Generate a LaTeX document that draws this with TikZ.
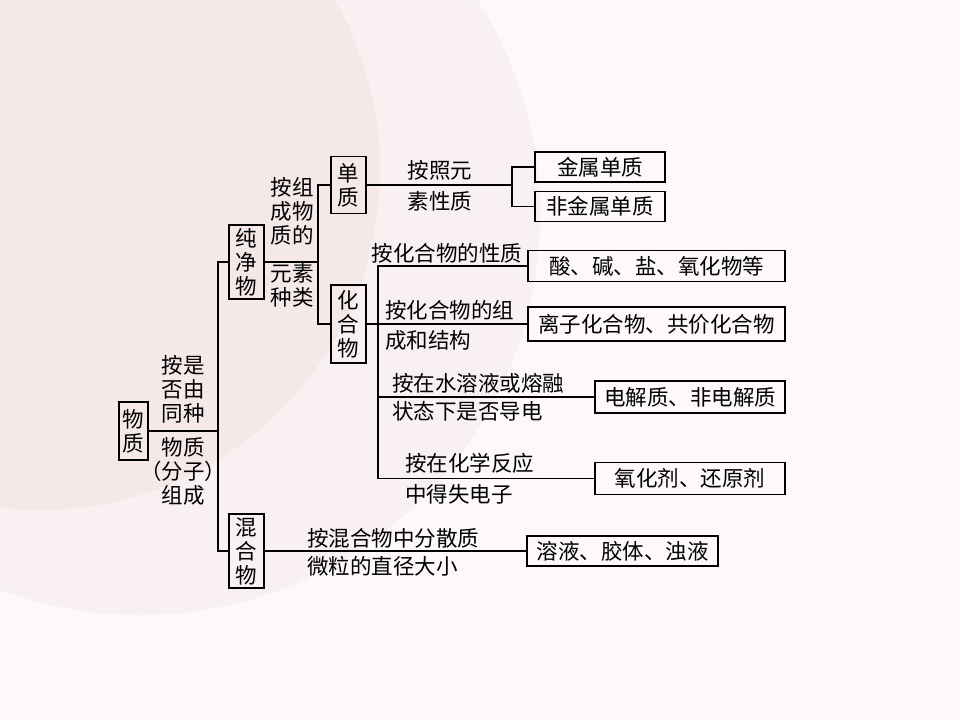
\documentclass[tikz,border=0pt]{standalone}
\usepackage{fontspec}
\newfontfamily\cjk{Noto Sans CJK SC}
\usepackage{xcolor}
\usepackage{tikz}
\usetikzlibrary{positioning, calc}
\definecolor{bgbase}{HTML}{FCF9F8}
\definecolor{bglight}{HTML}{F9F1F1}
\definecolor{bgdark}{HTML}{F5E8E8}
\tikzset{
  catbox/.style={draw, line width=1.8pt, align=center, inner sep=0pt},
  result/.style={draw, line width=1.6pt, align=center, inner sep=0pt},
  link/.style={line width=1.2pt},
  trunk/.style={line width=2pt},
  tag/.style={align=center, inner sep=0pt},
  every node/.style={font=\cjk\fontsize{21.5}{24}\selectfont}
}

\begin{document}
\begin{tikzpicture}[x=1pt, y=-1pt]
    \useasboundingbox (0,0) rectangle (960,720);
    % background
    \fill[bgbase] (0,0) rectangle (960,720);
    \begin{scope}
      \clip (0,0) rectangle (960,720);
      \fill[bglight] (140,215) circle[radius=400pt];
      \fill[bgdark] (40,170) circle[radius=340pt];
    \end{scope}

    % categories
    \node[catbox, minimum width=29pt, minimum height=58pt] (wuzhi) at (133.5,431) {物\\质};
    \node[catbox, minimum width=35pt, minimum height=74pt] (chunjing) at (246.5,262) {纯\\净\\物};
    \node[catbox, minimum width=35pt, minimum height=74pt] (hunhe) at (246.5,551) {混\\合\\物};
    \node[catbox, minimum width=35pt, minimum height=57pt] (danzhi) at (348.5,185) {单\\质};
    \node[catbox, minimum width=35pt, minimum height=78pt] (huahe) at (348.5,324) {化\\合\\物};

    % results
    \node[result, minimum width=130pt, minimum height=30pt] (jinshu) at (600,167) {金属单质};
    \node[result, minimum width=130pt, minimum height=30pt, below=8pt of jinshu] (feijinshu) {非金属单质};
    \node[result, minimum width=257pt, minimum height=31pt] (suanjian) at (656.5,266) {酸、碱、盐、氧化物等};
    \node[result, minimum width=257pt, minimum height=34pt] (lizi) at (656.5,324) {离子化合物、共价化合物};
    \node[result, minimum width=190pt, minimum height=32pt] (dianjie) at (690,397) {电解质、非电解质};
    \node[result, minimum width=190pt, minimum height=32pt, below=48pt of dianjie] (yanghua) {氧化剂、还原剂};
    \node[result, minimum width=191pt, minimum height=30pt] (fensan) at (622.5,551) {溶液、胶体、浊液};

    % labels on the lines
    \node[tag] (byfz) at (183,430) {按是\\否由\\同种\\[10pt]物质\\（分子）\\组成};
    \node[tag] (byzc) at (292,242) {按组\\成物\\质的\\[14pt]元素\\种类};
    \node[tag] (byys) at (440,186) {按照元\\[7pt]素性质};
    \node[tag] (byxz) at (447,253) {按化合物的性质};
    \node[tag, align=left, anchor=west] (byjg) at (385,325) {按化合物的组\\[6pt]成和结构};
    \node[tag, align=left, anchor=west] (bydd) at (392,397) {按在水溶液或熔融\\[4pt]状态下是否导电};
    \node[tag, align=left, anchor=west] (bydz) at (405,478.5) {按在化学反应\\[7pt]中得失电子};
    \node[tag, align=left, anchor=west] (byfs) at (307,552) {按混合物中分散质\\[4pt]微粒的直径大小};

    \coordinate (fork1) at (218,431);
    \coordinate (fork2) at (318,262);
    \coordinate (fork3) at (512,185);
    \coordinate (fork4) at (378,324);

    \draw[trunk] (wuzhi.east) -- (fork1);
    \draw[link] (chunjing.west) -| (fork1) |- (hunhe.west);
    \draw[link] (chunjing.east) -- (fork2);
    \draw[link] (danzhi.west) -| (fork2) |- (huahe.west);
    \draw[link] (danzhi.east) -- (fork3);
    \draw[link] (jinshu.west) -| (fork3) |- (feijinshu.west);
    \draw[link] (huahe.east) -- (lizi.west);
    \draw[link] (suanjian.west) -| (fork4) |- (yanghua.west);
    \draw[link] (fork4 |- dianjie.west) -- (dianjie.west);
    \draw[link] (hunhe.east) -- (fensan.west);
\end{tikzpicture}
\end{document}
